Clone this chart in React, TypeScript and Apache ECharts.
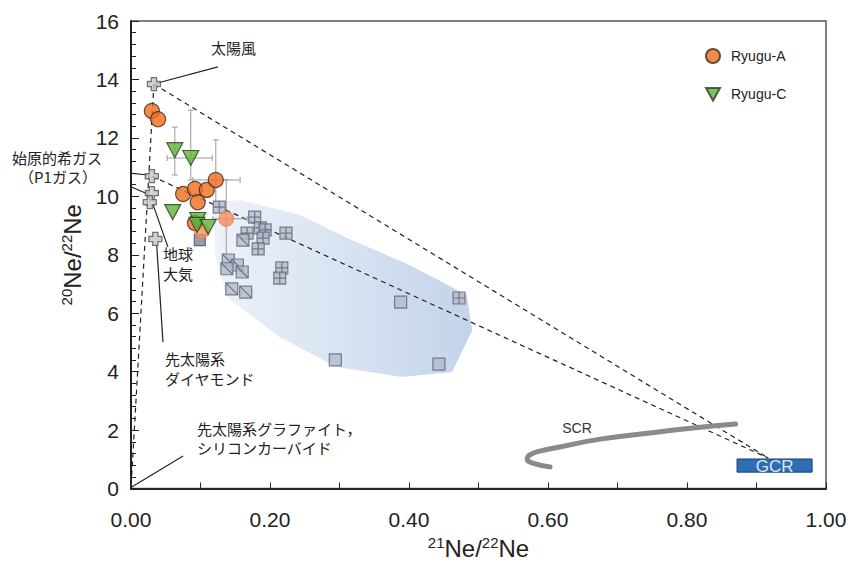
import React, { useEffect, useRef } from "react";
import * as echarts from "echarts";

// ---------- data ----------
const xTicks = [0, 0.2, 0.4, 0.6, 0.8, 1.0];
const yTicks = [0, 2, 4, 6, 8, 10, 12, 14, 16];

// Ryugu-A (dark outline)
const ryuguA: number[][] = [
  [0.030, 12.92], [0.039, 12.64], [0.075, 10.08], [0.092, 10.25],
  [0.109, 10.22], [0.122, 10.56], [0.096, 9.80], [0.092, 9.09],
];
// Ryugu-A (light)
const ryuguALight: number[][] = [[0.137, 9.23], [0.102, 8.81]];
// Ryugu-C
const ryuguC: number[][] = [
  [0.063, 11.58], [0.086, 11.31], [0.060, 9.46], [0.096, 9.19], [0.095, 9.02], [0.111, 8.95],
];
// error bars: x, y, xlo, xhi, ylo, yhi
const errBars: number[][] = [
  [0.122, 10.56, 0.089, 0.157, 9.63, 11.93],
  [0.137, 9.23, 0.118, 0.167, 7.65, 10.56],
  [0.063, 11.58, 0.063, 0.063, 10.73, 12.37],
  [0.086, 11.31, 0.052, 0.117, 10.56, 12.95],
];
// endmember crosses: solar wind, P1 a, P1 b, Earth air, presolar diamond
const endmembers: number[][] = [
  [0.033, 13.84], [0.030, 10.69], [0.030, 10.11], [0.027, 9.80], [0.035, 8.54],
];
// gray squares
const sqGrid: number[][] = [
  [0.127, 9.63], [0.178, 9.29], [0.186, 8.92], [0.193, 8.85], [0.190, 8.57], [0.167, 8.74],
  [0.223, 8.74], [0.183, 8.20], [0.217, 7.55], [0.214, 7.20], [0.472, 6.52],
];
const sqDiag: number[][] = [
  [0.161, 8.50], [0.140, 7.82], [0.153, 7.65], [0.138, 7.52], [0.160, 7.41], [0.145, 6.83], [0.165, 6.72],
];
const sqPlain: number[][] = [[0.388, 6.38], [0.294, 4.40], [0.443, 4.26]];
const sqDark: number[][] = [[0.099, 8.50]];

// shaded region
const polyX = [0.118, 0.157, 0.243, 0.311, 0.401, 0.483, 0.491, 0.462, 0.390, 0.296, 0.214, 0.138, 0.121];
const polyY = [9.77, 9.87, 9.36, 8.57, 7.65, 6.62, 5.42, 3.99, 3.82, 4.16, 5.18, 6.55, 7.99];

// mixing lines
const mixSW: number[][] = [[0.033, 13.84], [0.917, 1.04]];
const mixP1: number[][] = [[0.030, 10.69], [0.917, 1.04]];
const mixOrigin: number[][] = [[0.033, 13.84], [0, 0]];

// SCR trajectory
const scrCurve: number[][] = [
  [0.870, 2.21], [0.819, 2.10], [0.747, 1.90], [0.675, 1.69], [0.617, 1.42],
  [0.588, 1.28], [0.574, 1.15], [0.570, 1.01], [0.578, 0.87], [0.603, 0.74],
];
// GCR box: xlo, xhi, ylo, yhi
const gcrBox = [0.872, 0.980, 0.56, 1.01];

// leader lines
const leaders: number[][][] = [
  [[0.125, 14.43], [0.037, 13.87]],
  [[-0.052, 10.93], [0.024, 10.73]],
  [[-0.049, 10.83], [0.024, 10.08]],
  [[0.032, 9.70], [0.053, 8.27]],
  [[0.037, 8.33], [0.046, 5.01]],
  [[0.001, 0.05], [0.075, 1.11]],
];

const FONT = "'Liberation Sans', Arial, sans-serif";
const JP = "'Noto Sans CJK JP', sans-serif";

const CROSS = "path://M3,0H7V3H10V7H7V10H3V7H0V3H3Z";
const SQ_GRID = "path://M0,0H10V10H0Z M5,0V10 M0,5H10";
const SQ_DIAG = "path://M0,0H10V10H0Z M0,0L10,10";
const SQ = "path://M0,0H10V10H0Z";
const TRI_DOWN = "path://M0,0L10,0L5,9Z";

export default function App() {
  const ref = useRef<HTMLDivElement>(null);
  useEffect(() => {
    if (!ref.current) return;
    const chart = echarts.init(ref.current, null, { renderer: "svg" });

    const gradient = new echarts.graphic.LinearGradient(0, 0, 1, 0, [
      { offset: 0, color: "#eef2f9" },
      { offset: 1, color: "#c3d3ea" },
    ]);

    const sqStyle = { color: "#b3bccd", borderColor: "#5d6373", borderWidth: 1.2 };

    const jpText = (text: string, x: number, y: number, align = "left") => ({
      type: "text",
      x,
      y,
      z: 100,
      style: { text, fill: "#222", font: `15px ${JP}`, align, verticalAlign: "middle" },
    });

    const nameRich = {
      n: { fontFamily: FONT, fontSize: 24, color: "#222", lineHeight: 28 },
      sup: { fontFamily: FONT, fontSize: 15, color: "#222", verticalAlign: "top", lineHeight: 16 },
    };

    const option: any = {
      animation: false,
      grid: {
        left: 131,
        right: 35,
        top: 21,
        bottom: 74.5,
        show: true,
        borderColor: "#555",
        borderWidth: 1.5,
        containLabel: false,
        outerBoundsMode: "none",
      },
      xAxis: {
        type: "value",
        min: 0,
        max: 1,
        interval: 0.2,
        name: "{sup|21}{n|Ne/}{sup|22}{n|Ne}",
        nameLocation: "middle",
        nameGap: 46,
        nameTextStyle: { rich: nameRich },
        axisLine: { lineStyle: { color: "#222", width: 2 } },
        axisTick: { inside: true, length: 6, lineStyle: { color: "#222", width: 1 } },
        minorTick: { show: true, splitNumber: 2, length: 6, lineStyle: { color: "#222", width: 1 } },
        axisLabel: { fontFamily: FONT, fontSize: 21, color: "#222", margin: 20, formatter: (v: number) => v.toFixed(2) },
        splitLine: { show: false },
      },
      yAxis: {
        type: "value",
        min: 0,
        max: 16,
        interval: 2,
        name: "{sup|20}{n|Ne/}{sup|22}{n|Ne}",
        nameLocation: "middle",
        nameRotate: 90,
        nameGap: 43,
        nameTextStyle: { rich: nameRich },
        axisLine: { lineStyle: { color: "#222", width: 2 } },
        axisTick: { inside: true, length: 8, lineStyle: { color: "#222", width: 1 } },
        minorTick: { show: true, splitNumber: 5, length: 5, lineStyle: { color: "#222", width: 1 } },
        axisLabel: { fontFamily: FONT, fontSize: 21, color: "#222", margin: 12 },
        splitLine: { show: false },
      },
      legend: {
        data: [
          { name: "Ryugu-A", icon: "circle" },
          { name: "Ryugu-C", icon: TRI_DOWN },
        ],
        orient: "vertical",
        left: 705,
        top: 48,
        padding: 0,
        itemWidth: 14,
        itemHeight: 14,
        itemGap: 23,
        textStyle: { fontFamily: FONT, fontSize: 14, color: "#222", padding: [0, 0, 0, 6] },
      },
      graphic: [
        jpText("太陽風", 211, 47),
        jpText("始原的希ガス", 57, 157, "center"),
        jpText("（P1ガス）", 58, 176, "center"),
        jpText("地球", 163, 253),
        jpText("大気", 163, 273),
        jpText("先太陽系", 165, 358),
        jpText("ダイヤモンド", 165, 378),
        jpText("先太陽系グラファイト，", 197, 428),
        jpText("シリコンカーバイド", 197, 447),
        {
          type: "text",
          x: 577,
          y: 428,
          z: 100,
          style: { text: "SCR", fill: "#333", font: `14px ${FONT}`, align: "center", verticalAlign: "middle" },
        },
      ],
      series: [
        {
          type: "custom",
          name: "region",
          z: 1,
          silent: true,
          clip: false,
          data: [[polyX[0], polyY[0]]],
          renderItem: (_p: any, api: any) => ({
            type: "polygon",
            shape: { points: polyX.map((x, i) => api.coord([x, polyY[i]])) },
            style: { fill: gradient, stroke: "none" },
          }),
        },
        ...[mixSW, mixP1, mixOrigin].map((d) => ({
          type: "line",
          z: 2,
          silent: true,
          data: d,
          symbol: "none",
          clip: false,
          lineStyle: { color: "#222", width: 1.2, type: [5, 4] },
        })),
        ...leaders.map((d) => ({
          type: "line",
          z: 2,
          silent: true,
          data: d,
          symbol: "none",
          clip: false,
          lineStyle: { color: "#222", width: 1.2 },
        })),
        {
          type: "line",
          name: "SCR",
          z: 2,
          data: scrCurve,
          smooth: true,
          symbol: "none",
          lineStyle: { color: "#8a8a8a", width: 5, cap: "round" },
        },
        {
          type: "custom",
          name: "GCR",
          z: 2,
          data: [[gcrBox[0], gcrBox[2]]],
          renderItem: (_p: any, api: any) => {
            const a = api.coord([gcrBox[0], gcrBox[3]]);
            const b = api.coord([gcrBox[1], gcrBox[2]]);
            return {
              type: "group",
              children: [
                {
                  type: "rect",
                  shape: { x: a[0], y: a[1], width: b[0] - a[0], height: b[1] - a[1] },
                  style: { fill: "#2f6db5", stroke: "#1e3f6e", lineWidth: 1 },
                },
                {
                  type: "text",
                  style: {
                    text: "GCR",
                    x: (a[0] + b[0]) / 2,
                    y: (a[1] + b[1]) / 2 + 1,
                    align: "center",
                    verticalAlign: "middle",
                    fill: "#dce8f5",
                    font: `17px ${FONT}`,
                  },
                },
              ],
            };
          },
        },
        {
          type: "custom",
          name: "err",
          z: 3,
          data: errBars,
          renderItem: (_p: any, api: any) => {
            const x = api.value(0), y = api.value(1);
            const c = api.coord([x, y]);
            const l = api.coord([api.value(2), y]);
            const r = api.coord([api.value(3), y]);
            const lo = api.coord([x, api.value(4)]);
            const hi = api.coord([x, api.value(5)]);
            const st = { stroke: "#9a9a9a", lineWidth: 1 };
            const ch: any[] = [
              { type: "line", shape: { x1: c[0], y1: lo[1], x2: c[0], y2: hi[1] }, style: st },
              { type: "line", shape: { x1: c[0] - 3, y1: lo[1], x2: c[0] + 3, y2: lo[1] }, style: st },
              { type: "line", shape: { x1: c[0] - 3, y1: hi[1], x2: c[0] + 3, y2: hi[1] }, style: st },
            ];
            if (r[0] - l[0] > 1) {
              ch.push(
                { type: "line", shape: { x1: l[0], y1: c[1], x2: r[0], y2: c[1] }, style: st },
                { type: "line", shape: { x1: l[0], y1: c[1] - 3, x2: l[0], y2: c[1] + 3 }, style: st },
                { type: "line", shape: { x1: r[0], y1: c[1] - 3, x2: r[0], y2: c[1] + 3 }, style: st }
              );
            }
            return { type: "group", children: ch };
          },
        },
        { type: "scatter", name: "sqGrid", z: 4, data: sqGrid, symbol: SQ_GRID, symbolSize: 12, itemStyle: sqStyle },
        { type: "scatter", name: "sqDiag", z: 4, data: sqDiag, symbol: SQ_DIAG, symbolSize: 12, itemStyle: sqStyle },
        { type: "scatter", name: "sqPlain", z: 4, data: sqPlain, symbol: SQ, symbolSize: 12, itemStyle: sqStyle },
        {
          type: "scatter",
          name: "sqDark",
          z: 4,
          data: sqDark,
          symbol: SQ,
          symbolSize: 11,
          itemStyle: { color: "#7d8593", borderColor: "#4a4f5a", borderWidth: 1.2 },
        },
        {
          type: "scatter",
          name: "endmembers",
          z: 5,
          data: endmembers,
          symbol: CROSS,
          symbolSize: 13,
          itemStyle: { color: "#c6c6c6", borderColor: "#555", borderWidth: 1.3 },
        },
        {
          type: "scatter",
          name: "Ryugu-A",
          z: 6,
          data: ryuguA,
          symbol: "circle",
          symbolSize: 15,
          itemStyle: { color: "#f26b1d", borderColor: "#3a2a20", borderWidth: 1.2 },
        },
        {
          type: "scatter",
          name: "Ryugu-A light",
          z: 6,
          data: ryuguALight,
          symbol: "circle",
          symbolSize: 15,
          itemStyle: { color: "#f3905e", borderColor: "#e07a4a", borderWidth: 1 },
        },
        {
          type: "scatter",
          name: "Ryugu-C",
          z: 7,
          data: ryuguC,
          symbol: TRI_DOWN,
          symbolSize: [16, 15],
          itemStyle: { color: "#5db53a", borderColor: "#2d3d20", borderWidth: 1.2 },
        },
      ],
    };
    chart.setOption(option);
    return () => chart.dispose();
  }, []);

  return (
    <div
      ref={ref}
      style={{ position: "fixed", left: 0, top: 0, width: 861, height: 563, background: "#fff" }}
    />
  );
}
